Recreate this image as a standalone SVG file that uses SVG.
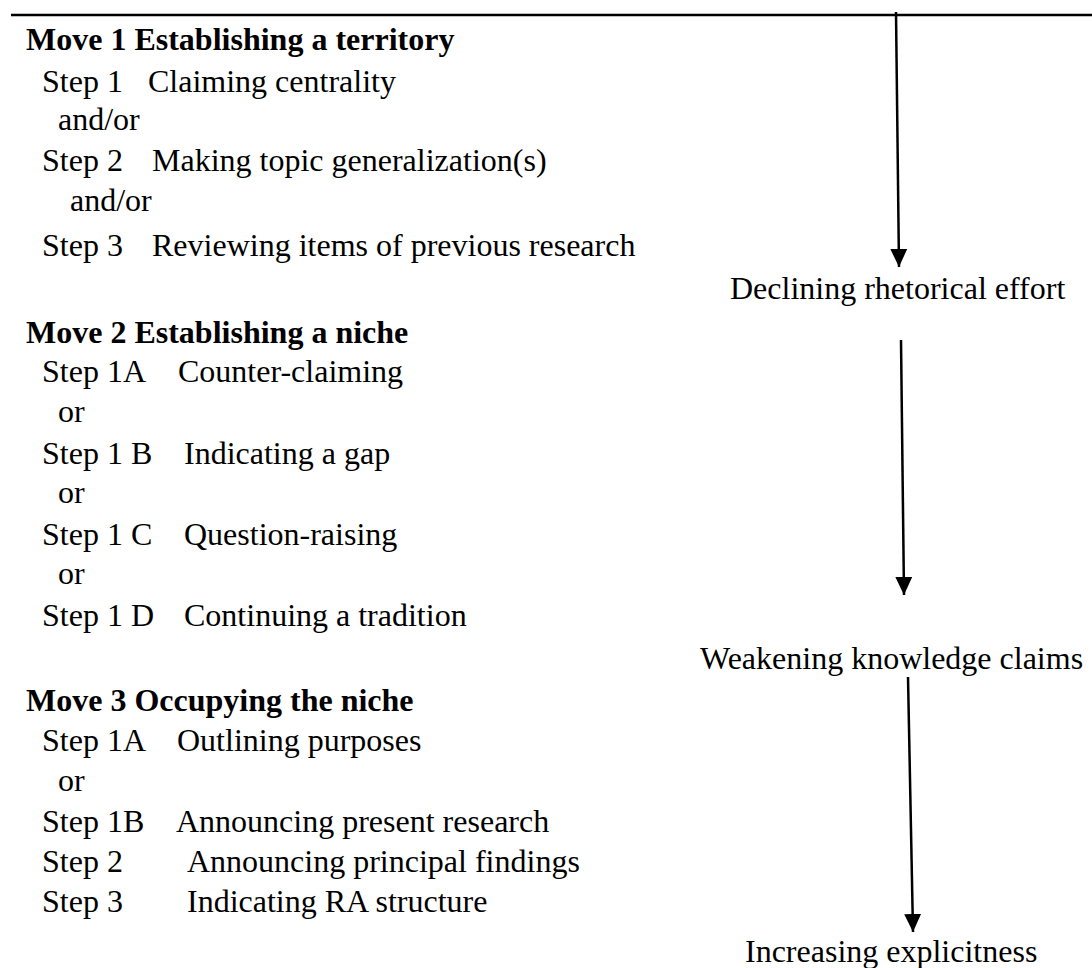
<svg xmlns="http://www.w3.org/2000/svg" width="1092" height="968" viewBox="0 0 1092 968">
<style>
text{font-family:"Liberation Serif","Times New Roman",serif;font-size:32px;fill:#000}
.b{font-weight:bold}
.ln{stroke:#000;stroke-width:2.5;fill:none}
</style>
<defs>
<marker id="ah" markerUnits="userSpaceOnUse" markerWidth="18" markerHeight="18" viewBox="0 0 16 15" refX="16" refY="7.5" orient="auto">
<path d="M0,0 L16,7.5 L0,15 Z" fill="#000"/>
</marker>
</defs>
<rect width="1092" height="968" fill="#fff"/>
<line x1="11" y1="15" x2="1092" y2="15" stroke="#000" stroke-width="2.5"/>
<g id="move1">
<text class="b" x="26" y="50">Move 1 Establishing a territory</text>
<text x="42" y="92">Step 1</text><text x="148" y="92">Claiming centrality</text>
<text x="58" y="130">and/or</text>
<text x="42" y="171">Step 2</text><text x="152" y="171">Making topic generalization(s)</text>
<text x="70" y="211">and/or</text>
<text x="42" y="256">Step 3</text><text x="152" y="256">Reviewing items of previous research</text>
</g>
<g id="move2">
<text class="b" x="26" y="343">Move 2 Establishing a niche</text>
<text x="42" y="382">Step 1A</text><text x="178" y="382">Counter-claiming</text>
<text x="58" y="422">or</text>
<text x="42" y="464">Step 1 B</text><text x="184" y="464">Indicating a gap</text>
<text x="58" y="503">or</text>
<text x="42" y="545">Step 1 C</text><text x="184" y="545">Question-raising</text>
<text x="58" y="584">or</text>
<text x="42" y="626">Step 1 D</text><text x="184" y="626">Continuing a tradition</text>
</g>
<g id="move3">
<text class="b" x="26" y="711">Move 3 Occupying the niche</text>
<text x="42" y="751">Step 1A</text><text x="177" y="751">Outlining purposes</text>
<text x="58" y="791">or</text>
<text x="42" y="832">Step 1B</text><text x="176" y="832">Announcing present research</text>
<text x="42" y="872">Step 2</text><text x="187" y="872">Announcing principal findings</text>
<text x="42" y="912">Step 3</text><text x="187" y="912">Indicating RA structure</text>
</g>
<g id="label1"><text x="730" y="299">Declining rhetorical effort</text></g>
<g id="label2"><text x="700" y="669">Weakening knowledge claims</text></g>
<g id="label3"><text x="745" y="962">Increasing explicitness</text></g>
<g id="connectors">
<line class="ln" x1="896" y1="12" x2="899" y2="267" marker-end="url(#ah)"/>
<line class="ln" x1="901" y1="340" x2="904" y2="595" marker-end="url(#ah)"/>
<line class="ln" x1="908" y1="677" x2="913" y2="932" marker-end="url(#ah)"/>
</g>
</svg>
